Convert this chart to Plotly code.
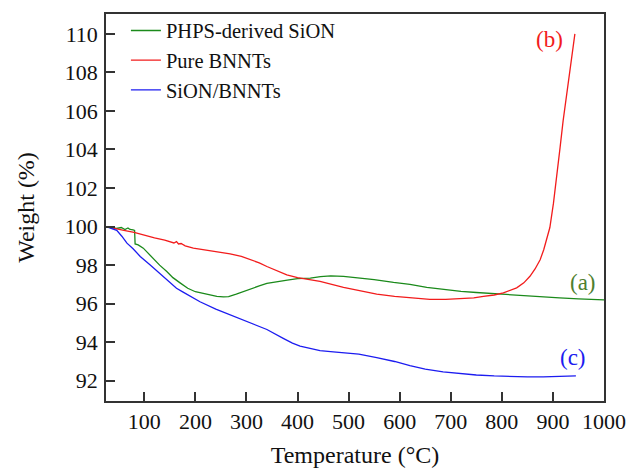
import plotly.graph_objects as go

# ---- data ----
green_x = [25, 35, 45, 55, 62, 68, 72, 78, 81, 82, 88, 98, 108, 118, 130, 144, 156, 170, 185, 200,
           215, 230, 242, 255, 265, 280, 295, 310, 325, 340, 360, 380, 400, 425, 445, 465, 490, 520,
           550, 588, 620, 653, 690, 720, 750, 783, 815, 848, 880, 913, 950, 1000]
green_y = [100.0, 99.95, 99.9, 99.95, 99.85, 99.93, 99.85, 99.83, 99.8, 99.1, 99.05, 98.88, 98.6,
           98.37, 98.0, 97.67, 97.35, 97.08, 96.8, 96.62, 96.52, 96.45, 96.38, 96.35, 96.37, 96.5,
           96.65, 96.78, 96.92, 97.05, 97.15, 97.22, 97.3, 97.33, 97.4, 97.44, 97.42, 97.35, 97.25,
           97.1, 97.0, 96.85, 96.72, 96.64, 96.58, 96.52, 96.45, 96.38, 96.33, 96.3, 96.25, 96.2]

red_x = [25, 40, 60, 80, 100, 120, 140, 158, 163, 167, 172, 180, 196, 215, 242, 268, 290, 307, 325,
         340, 360, 379, 400, 424, 444, 490, 520, 555, 590, 620, 659, 690, 718, 745, 764, 785, 803,
         818, 829, 843, 855, 865, 875, 882, 888, 894, 901, 907, 914, 920, 927, 933, 937, 943]
red_y = [100.0, 99.9, 99.8, 99.7, 99.55, 99.42, 99.3, 99.15, 99.22, 99.1, 99.12, 99.0, 98.88, 98.8,
         98.71, 98.58, 98.45, 98.3, 98.12, 97.93, 97.7, 97.5, 97.35, 97.25, 97.16, 96.85, 96.68,
         96.5, 96.38, 96.3, 96.22, 96.22, 96.25, 96.3, 96.38, 96.45, 96.56, 96.7, 96.82, 97.08,
         97.42, 97.8, 98.28, 98.8, 99.4, 99.95, 101.2, 102.7, 104.1, 105.5, 106.9, 108.1, 108.9, 110.0]

blue_x = [25, 35, 46, 56, 66, 78, 92, 111, 131, 144, 163, 176, 190, 209, 240, 274, 307, 340, 372,
          390, 405, 425, 444, 470, 490, 520, 555, 590, 620, 650, 685, 720, 750, 785, 816, 850, 881,
          910, 945]
blue_y = [100.0, 99.92, 99.8, 99.5, 99.14, 98.85, 98.45, 98.02, 97.55, 97.2, 96.8, 96.6, 96.4, 96.1,
          95.72, 95.35, 95.0, 94.66, 94.2, 93.95, 93.8, 93.67, 93.56, 93.5, 93.46, 93.38, 93.2, 93.0,
          92.78, 92.6, 92.46, 92.36, 92.3, 92.25, 92.22, 92.2, 92.2, 92.22, 92.25]

series_names = ["PHPS-derived SiON", "Pure BNNTs", "SiON/BNNTs"]
series_colors = ["#1b8a1b", "#f21c1c", "#1c1cf0"]

x_ticks = [100, 200, 300, 400, 500, 600, 700, 800, 900, 1000]
y_ticks = [92, 94, 96, 98, 100, 102, 104, 106, 108, 110]

labels = ["(a)", "(b)", "(c)"]
label_x = [959, 894, 939]
label_y = [97.1, 109.7, 93.2]
label_colors = ["#4f7f30", "#f21c1c", "#1c1cf0"]

FONT = "Liberation Serif"

fig = go.Figure()
for xs, ys, name, col in zip([green_x, red_x, blue_x], [green_y, red_y, blue_y],
                             series_names, series_colors):
    fig.add_trace(go.Scatter(x=xs, y=ys, mode="lines", name=name,
                             line=dict(color=col, width=1.3)))

for t, lx, ly, c in zip(labels, label_x, label_y, label_colors):
    fig.add_annotation(x=lx, y=ly, text=t, showarrow=False,
                       font=dict(family=FONT, size=23, color=c))

axis_common = dict(showgrid=False, zeroline=False, showline=True, linecolor="#333",
                   linewidth=1.5, mirror=True, ticks="inside", ticklen=9, tickwidth=1.5,
                   tickcolor="#333", tickfont=dict(family=FONT, size=22, color="#111"),
                   automargin=False)

fig.update_xaxes(range=[25, 1000], tickvals=x_ticks, ticklabelstandoff=0,
                 title=dict(text="Temperature (°C)", font=dict(family=FONT, size=24, color="#111"),
                            standoff=13),
                 **axis_common)
fig.update_yaxes(range=[90.95, 111.03], tickvals=y_ticks, ticklabelstandoff=2,
                 title=dict(text="Weight (%)", font=dict(family=FONT, size=24, color="#111"),
                            standoff=23),
                 **axis_common)

fig.update_layout(
    width=629, height=468,
    margin=dict(l=106, r=25, t=13, b=67),
    paper_bgcolor="white", plot_bgcolor="white",
    showlegend=True,
    legend=dict(x=0.04, y=1.006, xanchor="left", yanchor="top",
                bgcolor="rgba(0,0,0,0)", borderwidth=0,
                font=dict(family=FONT, size=20.5, color="#111"),
                tracegroupgap=0),
)

fig.write_html("out.html")
